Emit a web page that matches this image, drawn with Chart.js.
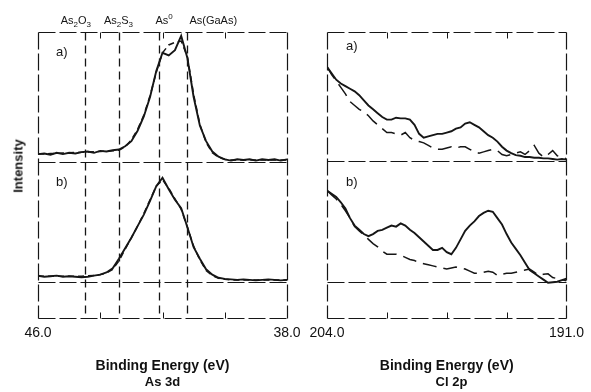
<!DOCTYPE html>
<html>
<head>
<meta charset="utf-8">
<title>As 3d / Cl 2p</title>
<script src="https://cdn.jsdelivr.net/npm/chart.js@4.4.1/dist/chart.umd.min.js"></script>
<style>
  html, body { margin: 0; padding: 0; background: #fff; overflow: hidden; }
  #fig { position: relative; width: 591px; height: 392px; }
  canvas { position: absolute; top: 0; }
  #leftChart { left: 0; }
  #rightChart { left: 290px; }
  #ylabel {
    position: absolute; left: 18px; top: 166px;
    transform: translate(-50%, -50%) rotate(-90deg);
    font: bold 13px Arial, "Liberation Sans", sans-serif; color: #111; white-space: nowrap;
  }
</style>
</head>
<body>
<div id="fig">
  <canvas id="leftChart" width="310" height="392"></canvas>
  <canvas id="rightChart" width="301" height="392"></canvas>
  <div id="ylabel">Intensity</div>
</div>
<script>
// As 3d: binding energy grid (eV) and normalised intensities
const asEnergy = [46.0, 45.8, 45.6, 45.4, 45.2, 45.0, 44.8, 44.6, 44.4, 44.2,
  44.0, 43.8, 43.6, 43.4, 43.2, 43.0, 42.8, 42.6, 42.4, 42.2,
  42.0, 41.8, 41.6, 41.4, 41.2, 41.0, 40.8, 40.6, 40.4, 40.2,
  40.0, 39.8, 39.6, 39.4, 39.2, 39.0, 38.8, 38.6, 38.4, 38.2, 38.0];
const asA_meas = [0.06, 0.065, 0.055, 0.07, 0.06, 0.07, 0.065, 0.075, 0.08, 0.07,
  0.085, 0.08, 0.09, 0.095, 0.12, 0.16, 0.24, 0.35, 0.50, 0.70,
  0.84, 0.82, 0.86, 0.97, 0.80, 0.50, 0.28, 0.16, 0.08, 0.04,
  0.02, 0.01, 0.02, 0.015, 0.02, 0.01, 0.02, 0.015, 0.02, 0.01, 0.02];
const asA_ref = [0.06, 0.062, 0.064, 0.066, 0.068, 0.07, 0.072, 0.074, 0.076, 0.078,
  0.08, 0.082, 0.085, 0.09, 0.115, 0.17, 0.25, 0.36, 0.51, 0.69,
  0.84, 0.90, 0.92, 0.93, 0.81, 0.52, 0.29, 0.15, 0.07, 0.035,
  0.02, 0.015, 0.015, 0.015, 0.015, 0.015, 0.015, 0.015, 0.015, 0.015, 0.015];
const asB_meas = [0.06, 0.05, 0.055, 0.06, 0.05, 0.055, 0.05, 0.045, 0.05, 0.06,
  0.07, 0.09, 0.13, 0.22, 0.32, 0.42, 0.53, 0.64, 0.77, 0.91,
  0.99, 0.88, 0.78, 0.70, 0.52, 0.33, 0.22, 0.12, 0.07, 0.04,
  0.03, 0.025, 0.02, 0.025, 0.02, 0.015, 0.02, 0.025, 0.02, 0.015, 0.02];
const asB_ref = [0.055, 0.055, 0.055, 0.055, 0.055, 0.055, 0.055, 0.055, 0.058, 0.062,
  0.07, 0.085, 0.12, 0.20, 0.31, 0.42, 0.53, 0.65, 0.78, 0.91,
  0.97, 0.89, 0.79, 0.69, 0.52, 0.34, 0.21, 0.11, 0.06, 0.035,
  0.025, 0.02, 0.02, 0.02, 0.02, 0.02, 0.02, 0.02, 0.02, 0.02, 0.02];
const asTicks = [46, 44, 42, 40, 38];
// chemical-state markers (eV)
const asLines = [44.5, 43.4, 42.1, 41.2];
const asLineLabels = ["As_2O_3", "As_2S_3", "As^0", "As(GaAs)"];

// Cl 2p
const clEnergy = [204.0, 203.75, 203.5, 203.25, 203.0, 202.75, 202.5, 202.25, 202.0, 201.75,
  201.5, 201.25, 201.0, 200.75, 200.5, 200.25, 200.0, 199.75, 199.5, 199.25,
  199.0, 198.75, 198.5, 198.25, 198.0, 197.75, 197.5, 197.25, 197.0, 196.75,
  196.5, 196.25, 196.0, 195.75, 195.5, 195.25, 195.0, 194.75, 194.5, 194.25,
  194.0, 193.75, 193.5, 193.25, 193.0, 192.75, 192.5, 192.25, 192.0, 191.75,
  191.5, 191.25, 191.0];
const clA_meas = [0.73, 0.68, 0.63, 0.60, 0.58, 0.56, 0.54, 0.51, 0.47, 0.43,
  0.40, 0.37, 0.34, 0.32, 0.32, 0.335, 0.33, 0.33, 0.32, 0.28,
  0.21, 0.18, 0.19, 0.20, 0.21, 0.21, 0.22, 0.23, 0.25, 0.26,
  0.29, 0.30, 0.28, 0.26, 0.23, 0.20, 0.18, 0.15, 0.11, 0.08,
  0.06, 0.045, 0.04, 0.03, 0.03, 0.025, 0.025, 0.02, 0.02, 0.015,
  0.01, 0.015, 0.01];
const clA_ref = [0.73, 0.67, 0.62, 0.57, 0.52, 0.46, 0.43, 0.40, 0.38, 0.35,
  0.31, 0.28, 0.25, 0.22, 0.22, 0.21, 0.20, 0.22, 0.18, 0.16,
  0.15, 0.14, 0.12, 0.10, 0.09, 0.09, 0.10, 0.11, 0.10, 0.11,
  0.11, 0.09, 0.07, 0.06, 0.07, 0.08, 0.09, 0.08, 0.05, 0.04,
  0.05, 0.06, 0.07, 0.05, 0.08, 0.12, 0.06, 0.03, 0.05, 0.08,
  0.04, 0.03, 0.015];
const clB_meas = [0.86, 0.83, 0.80, 0.75, 0.69, 0.60, 0.53, 0.49, 0.45, 0.43,
  0.45, 0.48, 0.49, 0.51, 0.53, 0.52, 0.55, 0.53, 0.49, 0.46,
  0.42, 0.38, 0.34, 0.30, 0.30, 0.32, 0.28, 0.26, 0.32, 0.40,
  0.48, 0.53, 0.57, 0.62, 0.65, 0.67, 0.66, 0.60, 0.54, 0.45,
  0.37, 0.31, 0.25, 0.18, 0.11, 0.08, 0.05, 0.02, -0.01, -0.005,
  0.0, 0.015, 0.03];
const clB_ref = [0.86, 0.82, 0.78, 0.73, 0.67, 0.60, 0.52, 0.48, 0.44, 0.40,
  0.36, 0.33, 0.29, 0.26, 0.26, 0.26, 0.25, 0.23, 0.21, 0.20,
  0.18, 0.17, 0.16, 0.15, 0.14, 0.13, 0.12, 0.13, 0.14, 0.13,
  0.12, 0.10, 0.08, 0.08, 0.09, 0.10, 0.09, 0.06, 0.07, 0.08,
  0.08, 0.09, 0.10, 0.11, 0.12, 0.09, 0.06, 0.07, 0.075, 0.04,
  0.03, 0.02, 0.01];
const clTicks = [204, 200.75, 197.5, 194.25, 191];

Chart.defaults.font.family = 'Arial, "Liberation Sans", sans-serif';
Chart.defaults.color = "#111";

const INK = "#161616";

// draw "As_2O_3" style text: _x subscript, ^x superscript
function drawRich(ctx, str, x, y) {
  let cx = x;
  for (let i = 0; i < str.length; i++) {
    let ch = str[i];
    let dy = 0;
    let size = 11;
    if (ch === "_" || ch === "^") {
      dy = ch === "_" ? 3 : -5;
      size = 8;
      ch = str[++i];
    }
    ctx.font = size + 'px Arial, "Liberation Sans", sans-serif';
    ctx.fillText(ch, cx, y + dy);
    cx += ctx.measureText(ch).width;
  }
}

function hLine(ctx, x0, x1, y) {
  ctx.beginPath();
  ctx.moveTo(x0, y);
  ctx.lineTo(x1, y);
  ctx.stroke();
}
function vLine(ctx, x, y0, y1) {
  ctx.beginPath();
  ctx.moveTo(x, y0);
  ctx.lineTo(x, y1);
  ctx.stroke();
}

// box, separator, zero line, inward ticks, marker lines and labels
const framePlugin = {
  id: "frame",
  afterDatasetsDraw(chart, args, opts) {
    const { ctx, chartArea: a, scales } = chart;
    const { x, ya, yb } = scales;
    const L = Math.round(a.left) + 0.5;
    const R = Math.round(a.right) + 0.5;
    const T = Math.round(a.top) + 0.5;
    const B = Math.round(a.bottom) + 0.5;
    const sep = Math.round(ya.bottom) + 0.5;
    const zero = Math.round(yb.getPixelForValue(0)) + 0.5;

    ctx.save();
    ctx.strokeStyle = INK;
    ctx.lineWidth = 1.2;
    ctx.setLineDash([17, 4]);
    hLine(ctx, L, R, T);
    hLine(ctx, L, R, B);
    vLine(ctx, L, T, B);
    vLine(ctx, R, T, B);
    hLine(ctx, L, R, sep);
    hLine(ctx, L, R, zero);

    // inward tick marks
    ctx.setLineDash([]);
    ctx.lineWidth = 1;
    x.ticks.forEach((t) => {
      if (t.value === x.min || t.value === x.max) return;
      const px = Math.round(x.getPixelForValue(t.value)) + 0.5;
      vLine(ctx, px, T, T + 6);
      vLine(ctx, px, B, B - 6);
    });

    // chemical-state marker lines
    ctx.setLineDash([8, 5]);
    ctx.lineWidth = 1.3;
    (opts.lines || []).forEach((e) => {
      const px = Math.round(x.getPixelForValue(e)) + 0.5;
      vLine(ctx, px, T, B);
    });

    ctx.fillStyle = INK;
    ctx.textBaseline = "alphabetic";
    ctx.textAlign = "left";
    (opts.labels || []).forEach((s, i) => {
      const px = x.getPixelForValue(opts.lines[i]) + opts.labelShift[i];
      drawRich(ctx, s, px, a.top - 8);
    });

    // sub-panel letters
    ctx.font = '13px Arial, "Liberation Sans", sans-serif';
    ctx.textBaseline = "middle";
    ctx.fillText("a)", a.left + opts.tagX, ya.top + opts.tagA);
    ctx.fillText("b)", a.left + opts.tagX, yb.top + opts.tagB);
    ctx.restore();
  },
};

function series(xs, ys, axis, dash) {
  return {
    data: xs.map((v, i) => ({ x: v, y: ys[i] })),
    xAxisID: "x",
    yAxisID: axis,
    borderColor: INK,
    borderWidth: dash ? 1.5 : 1.9,
    borderDash: dash || [],
    pointRadius: 0,
    tension: 0,
    fill: false,
  };
}

function panel(el, p) {
  return new Chart(document.getElementById(el), {
    type: "line",
    data: {
      datasets: [
        series(p.energy, p.aRef, "ya", p.dash),
        series(p.energy, p.aMeas, "ya", null),
        series(p.energy, p.bRef, "yb", p.dash),
        series(p.energy, p.bMeas, "yb", null),
      ],
    },
    options: {
      responsive: false,
      animation: false,
      devicePixelRatio: 1,
      layout: { padding: { left: p.padLeft, right: p.padRight, top: 32, bottom: 2 } },
      plugins: {
        legend: { display: false },
        tooltip: { enabled: false },
        title: {
          display: true,
          text: p.title,
          position: "bottom",
          fullSize: true,
          font: { size: 13, weight: "bold" },
          padding: { top: 0, bottom: 0 },
        },
        frame: p.frame,
      },
      scales: {
        x: {
          type: "linear",
          reverse: true,
          min: p.ticks[p.ticks.length - 1],
          max: p.ticks[0],
          afterBuildTicks: (s) => {
            s.ticks = p.ticks.map((v) => ({ value: v }));
          },
          ticks: {
            autoSkip: false,
            maxRotation: 0,
            padding: 7,
            font: { size: 14 },
            callback: (v) => (v === p.ticks[0] || v === p.ticks[p.ticks.length - 1] ? v.toFixed(1) : ""),
          },
          grid: { display: false, drawTicks: false },
          border: { display: false },
          title: {
            display: true,
            text: "Binding Energy (eV)",
            font: { size: 14, weight: "bold" },
            padding: { top: 9, bottom: 0 },
          },
        },
        yb: {
          type: "linear",
          position: "left",
          stack: "panel",
          stackWeight: p.weightB,
          min: -0.34,
          max: 1.14,
          ticks: { display: false },
          grid: { display: false, drawTicks: false },
          border: { display: false },
        },
        ya: {
          type: "linear",
          position: "left",
          stack: "panel",
          stackWeight: p.weightA,
          min: 0,
          max: 1,
          ticks: { display: false },
          grid: { display: false, drawTicks: false },
          border: { display: false },
        },
      },
    },
    plugins: [framePlugin],
  });
}

panel("leftChart", {
  energy: asEnergy,
  aMeas: asA_meas, aRef: asA_ref, bMeas: asB_meas, bRef: asB_ref,
  ticks: asTicks,
  dash: [6, 4],
  title: "As 3d",
  padLeft: 38, padRight: 23,
  weightA: 130, weightB: 156,
  frame: {
    lines: asLines, labels: asLineLabels, labelShift: [-24, -15, -4, 2],
    tagX: 18, tagA: 20, tagB: 21,
  },
});

panel("rightChart", {
  energy: clEnergy,
  aMeas: clA_meas, aRef: clA_ref, bMeas: clB_meas, bRef: clB_ref,
  ticks: clTicks,
  dash: [14, 7],
  title: "Cl 2p",
  padLeft: 37, padRight: 15,
  weightA: 129, weightB: 157,
  frame: { tagX: 19, tagA: 14, tagB: 22 },
});
</script>
</body>
</html>
